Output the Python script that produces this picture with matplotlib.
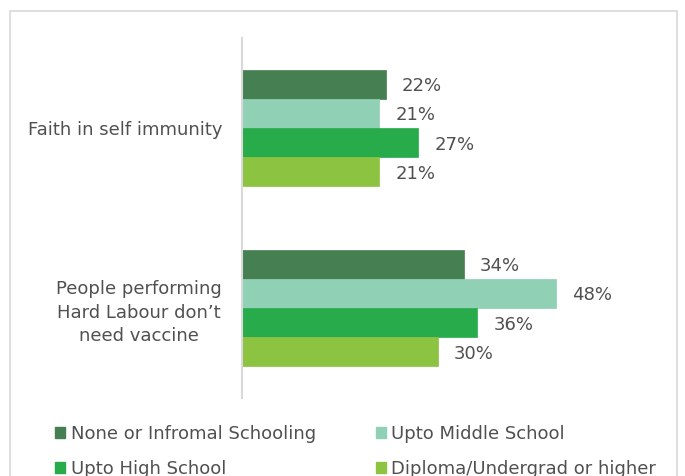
import matplotlib
matplotlib.use("Agg")
import matplotlib.pyplot as plt
from matplotlib.patches import Rectangle, Patch
import numpy as np

plt.rcParams['font.family'] = ['DejaVu Sans']

categories = ["Faith in self immunity", "People performing\nHard Labour don\u2019t\nneed vaccine"]
series = ["None or Infromal Schooling", "Upto Middle School", "Upto High School", "Diploma/Undergrad or higher"]
values = {
    "None or Infromal Schooling": [22, 34],
    "Upto Middle School": [21, 48],
    "Upto High School": [27, 36],
    "Diploma/Undergrad or higher": [21, 30],
}
colors = ["#467F52", "#90D0B4", "#28AB4B", "#8CC341"]

fig = plt.figure(figsize=(6.85, 4.76), dpi=100)
ax = fig.add_axes([242/685, 1-398/476, 392/685, 360/476])

# outer border
fig.patches.append(Rectangle((10/685, -0.05), 667/685, 1.05-11/476, transform=fig.transFigure,
                             fill=False, edgecolor="#D9D9D9", linewidth=1.2))

bar_h = 0.162
centers = np.array([1.0, 0.0])  # first category on top
text_color = "#505050"
fs = 13
for i, (s, c) in enumerate(zip(series, colors)):
    y = centers + (1.5 - i) * bar_h
    vals = values[s]
    ax.barh(y, vals, height=bar_h, color=c, edgecolor=c, linewidth=0.5, label=s)
    for yy, v in zip(y, vals):
        ax.annotate(f"{v}%", xy=(v, yy), xytext=(16, -2), textcoords="offset pixels",
                    ha="left", va="center", fontsize=fs, color=text_color)

ax.set_xlim(0, 60)
ax.set_ylim(-0.5, 1.5)
ax.set_yticks(centers)
ax.set_yticklabels(categories, fontsize=fs, color=text_color, ha="right", multialignment="center",
                   linespacing=1.38)
ax.tick_params(axis="y", length=0, pad=20 * 72 / 100)
ax.set_xticks([])
for sp in ["top", "right", "bottom"]:
    ax.spines[sp].set_visible(False)
ax.spines["left"].set_color("#D9D9D9")
ax.spines["left"].set_linewidth(1.5)

# legend in row-major order (2 columns)
order = [0, 2, 1, 3]
handles = [Patch(facecolor=colors[k], edgecolor=colors[k]) for k in order]
labels = [series[k] for k in order]
fig.legend(handles, labels, loc="upper left", bbox_to_anchor=(55/685, 1-425/476), ncol=2,
           frameon=False, fontsize=fs, handlelength=0.58, handleheight=0.58, handletextpad=0.3,
           columnspacing=3.3, labelspacing=0.92, borderpad=0, borderaxespad=0,
           labelcolor=text_color)

fig.savefig("out.png", dpi=100)
